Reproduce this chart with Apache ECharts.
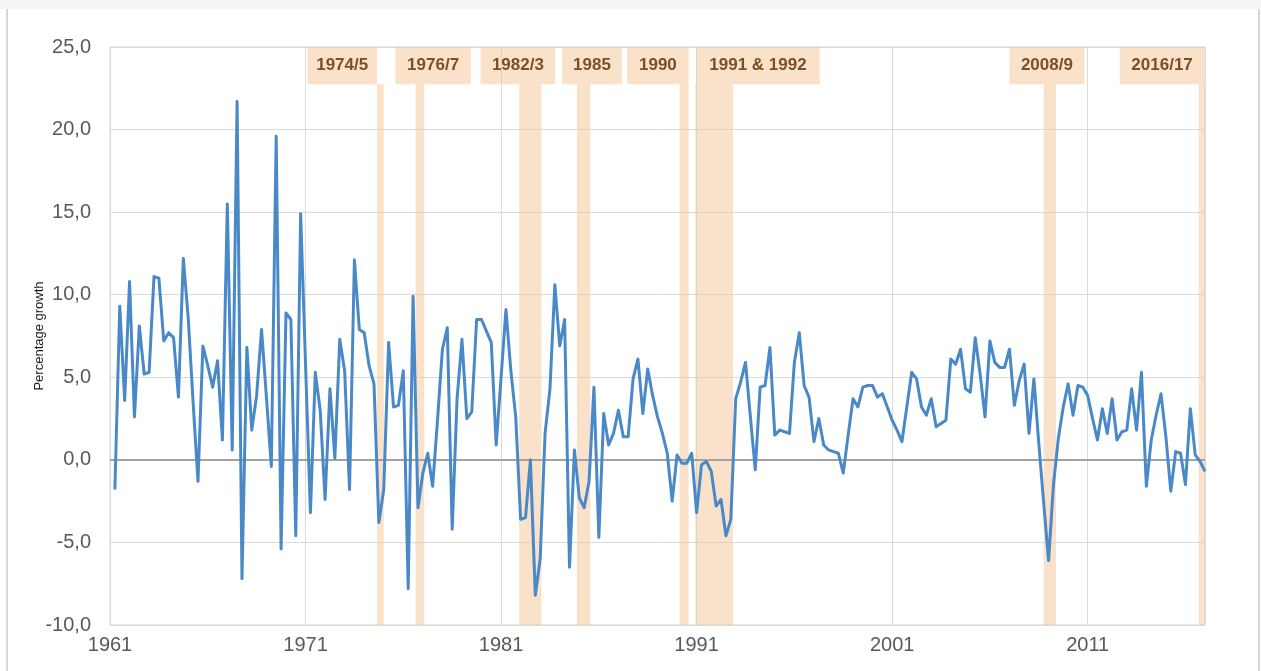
<!DOCTYPE html>
<html>
<head>
<meta charset="utf-8">
<script src="https://cdn.jsdelivr.net/npm/echarts@6/dist/echarts.min.js"></script>
<style>
  html, body { margin: 0; padding: 0; background: #ffffff; }
  #frame { position: absolute; left: 0; top: 0; width: 1261px; height: 671px; overflow: hidden; }
  #topstrip { position: absolute; left: 0; top: 0; width: 1261px; height: 9px; background: #f4f4f4; }
  #leftline { position: absolute; left: 6px; top: 9px; width: 2px; height: 662px; background: #d6d6d6; }
  #rightline { position: absolute; left: 1258px; top: 9px; width: 2px; height: 662px; background: #d6d6d6; }
  #chart { position: absolute; left: 0; top: 0; width: 1261px; height: 671px; }
</style>
</head>
<body>
<div id="frame">
  <div id="topstrip"></div>
  <div id="leftline"></div>
  <div id="rightline"></div>
  <div id="chart"></div>
</div>
<script>
// ---------------- DATA ----------------
// Quarterly percentage growth, 1961 Q1 ... 2016 Q4 (224 quarters)
const firstYear = 1961;
const quarterlyGrowth = [
  -1.8, 9.3, 3.6, 10.8, 2.6, 8.1, 5.2, 5.3, 11.1, 11.0,
  7.2, 7.7, 7.4, 3.8, 12.2, 8.6, 3.5, -1.3, 6.9, 5.7,
  4.4, 6.0, 1.2, 15.5, 0.6, 21.7, -7.2, 6.8, 1.8, 3.9,
  7.9, 3.8, -0.4, 19.6, -5.4, 8.9, 8.5, -4.6, 14.9, 5.8,
  -3.2, 5.3, 3.0, -2.4, 4.3, 0.1, 7.3, 5.4, -1.8, 12.1,
  7.9, 7.7, 5.7, 4.6, -3.8, -1.8, 7.1, 3.2, 3.3, 5.4,
  -7.8, 9.9, -2.9, -0.8, 0.4, -1.6, 2.4, 6.7, 8.0, -4.2,
  3.7, 7.3, 2.5, 2.9, 8.5, 8.5, 7.8, 7.1, 0.9, 5.0,
  9.1, 5.4, 2.6, -3.6, -3.5, 0.0, -8.2, -6.0, 1.6, 4.3,
  10.6, 6.9, 8.5, -6.5, 0.6, -2.3, -2.9, -1.3, 4.4, -4.7,
  2.8, 0.9, 1.6, 3.0, 1.4, 1.4, 4.9, 6.1, 2.8, 5.5,
  3.9, 2.6, 1.6, 0.4, -2.5, 0.3, -0.2, -0.2, 0.4, -3.2,
  -0.3, -0.1, -0.7, -2.8, -2.4, -4.6, -3.6, 3.7, 4.7, 5.9,
  2.6, -0.6, 4.4, 4.5, 6.8, 1.5, 1.8, 1.7, 1.6, 5.9,
  7.7, 4.5, 3.8, 1.1, 2.5, 0.9, 0.6, 0.5, 0.4, -0.8,
  1.5, 3.7, 3.2, 4.4, 4.5, 4.5, 3.8, 4.0, 3.2, 2.4,
  1.8, 1.1, 3.2, 5.3, 4.9, 3.2, 2.7, 3.7, 2.0, 2.2,
  2.4, 6.1, 5.8, 6.7, 4.3, 4.1, 7.4, 5.2, 2.6, 7.2,
  5.9, 5.6, 5.6, 6.7, 3.3, 4.8, 5.8, 1.6, 4.9, 1.0,
  -2.6, -6.1, -1.5, 1.3, 3.2, 4.6, 2.7, 4.5, 4.4, 3.9,
  2.5, 1.2, 3.1, 1.6, 3.7, 1.2, 1.7, 1.8, 4.3, 1.8,
  5.3, -1.6, 1.2, 2.7, 4.0, 1.4, -1.9, 0.5, 0.4, -1.5,
  3.1, 0.3, -0.1, -0.7
];

// Axis ticks
const tickYears = [1961, 1971, 1981, 1991, 2001, 2011];
const yTicks = [-10, -5, 0, 5, 10, 15, 20, 25];

// Recession periods (decimal years) and their labels
const recessionNames = ['1974/5', '1976/7', '1982/3', '1985', '1990', '1991 & 1992', '2008/9', '2016/17'];
const recessionStart = [1974.65, 1976.63, 1981.93, 1984.88, 1990.13, 1990.93, 2008.75, 2016.68];
const recessionEnd   = [1975.00, 1977.07, 1983.06, 1985.56, 1990.59, 1992.86, 2009.38, 2017.00];
// Label box spans (decimal years)
const labelStart = [1971.10, 1975.60, 1979.95, 1984.12, 1987.45, 1990.98, 2007.00, 2012.64];
const labelEnd   = [1974.65, 1979.45, 1983.77, 1987.18, 1990.59, 1997.30, 2010.83, 2016.97];

// ---------------- CHART ----------------
const toQ = y => (y - firstYear) * 4;          // decimal year -> quarter index
const lastQ = toQ(2017);
const labelBoxBottom = 22.75;
const bandColor = 'rgba(246,196,150,0.5)';

const lineData = quarterlyGrowth.map((v, i) => [i + 1, v]);

const bandAreas = recessionNames.map((n, i) => [
  { xAxis: toQ(recessionStart[i]), yAxis: yTicks[0] },
  { xAxis: toQ(recessionEnd[i]), yAxis: labelBoxBottom }
]);
const labelAreas = recessionNames.map((n, i) => [
  { name: n, xAxis: toQ(labelStart[i]), yAxis: labelBoxBottom },
  { xAxis: toQ(labelEnd[i]), yAxis: yTicks[yTicks.length - 1] }
]);

const chart = echarts.init(document.getElementById('chart'), null, { renderer: 'canvas' });
chart.setOption({
  animation: false,
  backgroundColor: 'transparent',
  grid: {
    left: 110, right: 56, top: 47, bottom: 46,
    show: true, borderColor: '#d4d4d4', borderWidth: 1, backgroundColor: 'transparent'
  },
  xAxis: {
    type: 'value',
    min: 0, max: lastQ, interval: 40,
    axisLine: { show: false },
    axisTick: { show: false },
    axisLabel: {
      color: '#595959', fontSize: 20, fontFamily: 'Liberation Sans, Arial, sans-serif',
      margin: 10, showMaxLabel: false,
      formatter: v => {
        const y = firstYear + v / 4;
        return tickYears.indexOf(y) >= 0 ? String(y) : '';
      }
    },
    splitLine: { show: true, lineStyle: { color: '#dadada', width: 1 } }
  },
  yAxis: {
    type: 'value',
    min: yTicks[0], max: yTicks[yTicks.length - 1], interval: 5,
    name: 'Percentage growth',
    nameLocation: 'middle', nameGap: 64, nameRotate: 90,
    nameMoveOverlap: false,
    nameTextStyle: { color: '#1a1a1a', fontSize: 13, fontFamily: 'Liberation Sans, Arial, sans-serif' },
    axisLine: { show: false },
    axisTick: { show: false },
    axisLabel: {
      color: '#595959', fontSize: 20, fontFamily: 'Liberation Sans, Arial, sans-serif',
      margin: 19,
      formatter: v => v.toFixed(1).replace('.', ',')
    },
    splitLine: { show: true, lineStyle: { color: '#dadada', width: 1 } }
  },
  series: [
    {
      type: 'line',
      name: 'bands',
      data: [],
      z: 1,
      silent: true,
      markArea: {
        silent: true,
        itemStyle: { color: bandColor },
        label: { show: false },
        data: bandAreas
      },
      markLine: {
        silent: true,
        symbol: ['none', 'none'],
        label: { show: false },
        lineStyle: { color: '#a3a3a3', width: 2, type: 'solid' },
        data: [{ yAxis: 0 }]
      }
    },
    {
      type: 'line',
      name: 'labels',
      data: [],
      z: 1,
      silent: true,
      markArea: {
        silent: true,
        itemStyle: { color: bandColor },
        label: {
          show: true, position: 'inside',
          color: '#7d4f25', fontSize: 17, fontWeight: 'bold',
          fontFamily: 'Liberation Sans, Arial, sans-serif'
        },
        data: labelAreas
      }
    },
    {
      type: 'line',
      name: 'Percentage growth',
      data: lineData,
      z: 5,
      showSymbol: false,
      symbol: 'none',
      lineStyle: { color: '#4a89c8', width: 3, join: 'round' },
      itemStyle: { color: '#4a89c8' }
    }
  ]
});
</script>
</body>
</html>
